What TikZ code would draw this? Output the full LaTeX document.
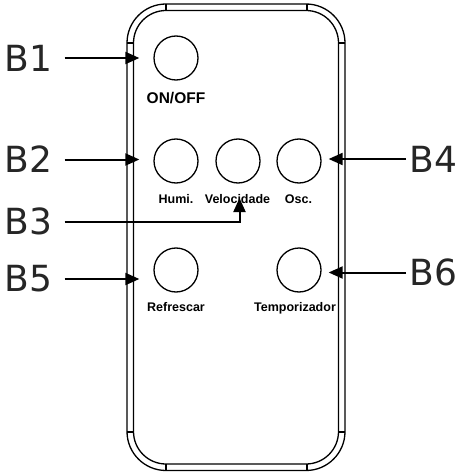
\documentclass[tikz,border=0pt]{standalone}
\usepackage{fontspec}
\setmainfont{Liberation Sans}
\newfontfamily\blabelfont{DejaVu Sans}
\usetikzlibrary{arrows.meta}
\begin{document}
\begin{tikzpicture}[x=1pt,y=-1pt,
  outline/.style={line width=1.3pt},
  btn/.style={circle,draw,line width=1.3pt,minimum size=44pt,inner sep=0pt},
  blabel/.style={font=\blabelfont\fontsize{36}{40}\selectfont,text=black!85,inner sep=0pt,anchor=west},
  tag/.style={font=\bfseries\fontsize{12.5}{14}\selectfont,inner sep=0pt,anchor=base},
  arr/.style={line width=2pt,-{Triangle[length=14pt,width=12pt]}}]
\useasboundingbox (0,0) rectangle (464,473);
% remote body
\draw[outline,rounded corners=39pt] (127,4) rectangle (345,470.5);
\draw[outline,rounded corners=32.5pt] (133.5,10.5) rectangle (338.5,464);
\draw[outline] (166,4) -- (166,10.5) (307,4) -- (307,10.5)
               (166,464) -- (166,470.5) (307,464) -- (307,470.5)
               (127,43) -- (133.5,43) (127,432) -- (133.5,432)
               (338.5,43) -- (345,43) (338.5,432) -- (345,432);
% buttons
\node[btn] (btn1) at (176,58) {};
\node[btn] (btn2) at (176,161) {};
\node[btn] (btn3) at (238,161) {};
\node[btn] (btn4) at (299,161) {};
\node[btn] (btn5) at (176,270) {};
\node[btn] (btn6) at (299,270) {};
% button texts
\node[tag,font=\bfseries\fontsize{15.5}{17}\selectfont] (t1) at (176,103.3) {ON/OFF};
\node[tag] (t2) at (176,203.3) {Humi.};
\node[tag] (t3) at (237.5,203.3) {Velocidade};
\node[tag] (t4) at (298.5,203.3) {Osc.};
\node[tag] (t5) at (176,311) {Refrescar};
\node[tag] (t6) at (295,311) {Temporizador};
% outside labels
\node[blabel] (B1) at (4.6,58) {B1};
\node[blabel] (B2) at (4.6,159.5) {B2};
\node[blabel] (B3) at (4.6,221.5) {B3};
\node[blabel] (B5) at (4.6,279) {B5};
\node[blabel] (B4) at (409.5,159) {B4};
\node[blabel] (B6) at (409.5,272.5) {B6};
\coordinate (b3tip) at (239.5,198);
% arrows
\draw[arr,shorten <=12pt,shorten >=14pt] (B1.east) -- (B1.east -| btn1.west);
\draw[arr,shorten <=12pt,shorten >=14pt] (B2.east) -- (B2.east -| btn2.west);
\draw[arr,shorten <=12pt,shorten >=14pt] (B5.east) -- (B5.east -| btn5.west);
\draw[arr,shorten <=3.5pt,shorten >=7pt] (B4.west) -- (B4.west -| btn4.east);
\draw[arr,shorten <=3.5pt,shorten >=7pt] (B6.west) -- (B6.west -| btn6.east);
\draw[arr,shorten <=12pt] (B3.east) -| (b3tip);
\end{tikzpicture}
\end{document}
